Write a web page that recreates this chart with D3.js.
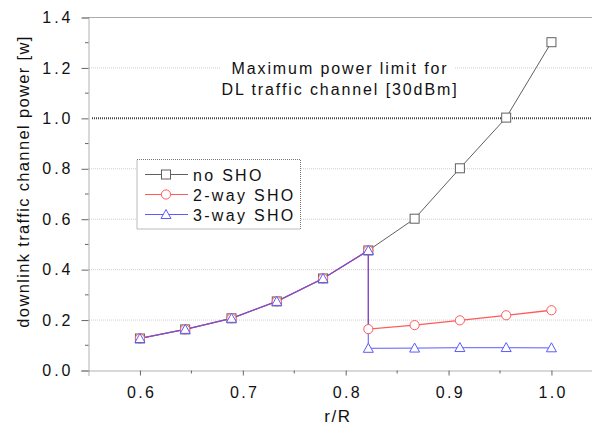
<!DOCTYPE html>
<html><head><meta charset="utf-8">
<script src="https://cdn.jsdelivr.net/npm/d3@7"></script>
<style>body{margin:0;background:#fff}svg{display:block}</style>
</head><body><svg id="c" width="592" height="433"></svg>
<script>
const xNo = [0.6, 0.644, 0.689, 0.733, 0.778, 0.822, 0.867, 0.911, 0.956, 1.0];
const noSHO = [0.127, 0.163, 0.207, 0.274, 0.365, 0.476, 0.602, 0.802, 1.003, 1.302];
const xSHO = [0.6, 0.644, 0.689, 0.733, 0.778, 0.822, 0.822, 0.867, 0.911, 0.956, 1.0];
const twoWay = [0.127, 0.163, 0.207, 0.274, 0.365, 0.476, 0.164, 0.180, 0.199, 0.219, 0.239];
const threeWay = [0.127, 0.163, 0.207, 0.274, 0.365, 0.476, 0.088, 0.089, 0.091, 0.091, 0.090];
const yTicks = [0.0, 0.2, 0.4, 0.6, 0.8, 1.0, 1.2, 1.4];
const xTicks = [0.6, 0.7, 0.8, 0.9, 1.0];
const limitValue = 1.0;
const seriesNames = ["no SHO", "2-way SHO", "3-way SHO"];

const svg = d3.select("#c");
const x = d3.scaleLinear().domain([0.55, 1.04]).range([88.5, 592.6]);
const y = d3.scaleLinear().domain([0, 1.4]).range([370.5, 17.5]);
const font = "'Liberation Sans', Arial, sans-serif";

// gridlines
svg.append("g").selectAll("line").data(yTicks.filter(d => d > 0 && d < 1.4 && d !== limitValue)).join("line")
  .attr("x1", 89).attr("x2", 592).attr("y1", d => y(d)).attr("y2", d => y(d))
  .attr("stroke", "#cfcfcf").attr("stroke-width", 1).attr("stroke-dasharray", "1,1");

// top frame
svg.append("line").attr("x1", 88.5).attr("x2", 592).attr("y1", y(1.4)).attr("y2", y(1.4))
  .attr("stroke", "#555").attr("stroke-width", 1).attr("stroke-dasharray", "1,1");

// limit line
svg.append("line").attr("x1", 92).attr("x2", 592).attr("y1", y(limitValue)).attr("y2", y(limitValue))
  .attr("stroke", "#444").attr("stroke-width", 2).attr("stroke-dasharray", "1,1");

// annotation with white background
const ann = svg.append("g");
ann.append("rect").attr("x", 221).attr("y", 55).attr("width", 234).attr("height", 42).attr("fill", "#fff");
["Maximum power limit for", "DL traffic channel [30dBm]"].forEach((t, i) => {
  ann.append("text").attr("x", 340).attr("y", 74 + i * 21).attr("text-anchor", "middle")
    .attr("font-family", font).attr("font-size", 16).attr("letter-spacing", 1.9)
    .attr("fill", "#111").text(t);
});

// axes
const yAxis = d3.axisLeft(y).tickValues(yTicks).tickFormat(d3.format(".1f")).tickSize(7).tickPadding(8);
const yg = svg.append("g").attr("transform", "translate(88.5,0)").call(yAxis);
const xAxis = d3.axisBottom(x).tickValues(xTicks).tickFormat(d3.format(".1f")).tickSize(5).tickPadding(11.5);
const xg = svg.append("g").attr("transform", "translate(0,370.5)").call(xAxis);
[yg, xg].forEach(g => {
  g.select(".domain").attr("stroke", "#666").attr("stroke-dasharray", "1,1");
  g.selectAll(".tick line").attr("stroke", "#666");
  g.selectAll("text").attr("font-family", font).attr("font-size", 16).attr("fill", "#111");
});
yg.selectAll("text").attr("letter-spacing", 3);
xg.selectAll("text").attr("letter-spacing", 2.3).attr("dx", 1.2);
// minor ticks
const yMinor = d3.range(0.1, 1.4, 0.2);
svg.append("g").selectAll("line").data(yMinor).join("line")
  .attr("x1", 85).attr("x2", 88.5).attr("y1", d => y(d)).attr("y2", d => y(d)).attr("stroke", "#666");
const xMinor = [0.65, 0.75, 0.85, 0.95];
svg.append("g").selectAll("line").data(xMinor).join("line")
  .attr("x1", d => x(d)).attr("x2", d => x(d)).attr("y1", 370.5).attr("y2", 373.5).attr("stroke", "#666");

// axis labels
svg.append("text").attr("x", 338).attr("y", 421.5).attr("text-anchor", "middle")
  .attr("font-family", font).attr("font-size", 17).attr("letter-spacing", 1.6).attr("fill", "#111").text("r/R");
svg.append("text").attr("transform", "translate(28.5,181.5) rotate(-90)").attr("text-anchor", "middle")
  .attr("font-family", font).attr("font-size", 16.5).attr("letter-spacing", 1.35).attr("fill", "#111")
  .text("downlink traffic channel power [w]");

// lines
const line = d3.line().x(d => x(d[0])).y(d => y(d[1]));
const cNo = "#606060", cTwo = "#ff5a5a", cThree = "#5a5aff";
const dNo = xNo.map((v, i) => [v, noSHO[i]]);
const dTwo = xSHO.map((v, i) => [v, twoWay[i]]);
const dThree = xSHO.map((v, i) => [v, threeWay[i]]);
svg.append("path").datum(dNo).attr("d", line).attr("fill", "none").attr("stroke", cNo).attr("stroke-width", 1);
svg.append("path").datum(dTwo).attr("d", line).attr("fill", "none").attr("stroke", cTwo).attr("stroke-width", 1.3);
svg.append("path").datum(dThree).attr("d", line).attr("fill", "none").attr("stroke", "#4a4aff").attr("stroke-width", 1.3).attr("stroke-opacity", 0.72);

// markers
function square(g, px, py, c) {
  g.append("rect").attr("x", px - 4.5).attr("y", py - 4.5).attr("width", 9).attr("height", 9)
    .attr("fill", "#fff").attr("stroke", c).attr("stroke-width", 1);
}
function circle(g, px, py, c) {
  g.append("circle").attr("cx", px).attr("cy", py).attr("r", 4.6).attr("fill", "#fff").attr("stroke", c).attr("stroke-width", 1);
}
function tri(g, px, py, c) {
  g.append("path").attr("d", `M${px},${py - 5}L${px + 5},${py + 4}L${px - 5},${py + 4}Z`)
    .attr("fill", "#fff").attr("stroke", c).attr("stroke-width", 1);
}
const mg = svg.append("g");
dNo.forEach(d => square(mg, x(d[0]), y(d[1]), cNo));
dTwo.forEach(d => circle(mg, x(d[0]), y(d[1]), cTwo));
dThree.forEach(d => tri(mg, x(d[0]), y(d[1]), cThree));

// legend
const leg = svg.append("g");
leg.append("rect").attr("x", 137).attr("y", 159.5).attr("width", 163.5).attr("height", 69.5)
  .attr("fill", "#fff").attr("stroke", "#777").attr("stroke-dasharray", "1,1");
const legColors = [cNo, cTwo, cThree];
const legMarks = [square, circle, tri];
seriesNames.forEach((n, i) => {
  const yy = 174.5 + i * 20;
  leg.append("line").attr("x1", 145).attr("x2", 188).attr("y1", yy).attr("y2", yy)
    .attr("stroke", legColors[i]).attr("stroke-width", 1);
  legMarks[i](leg, 166, yy, legColors[i]);
  leg.append("text").attr("x", 193).attr("y", yy + 6.2).attr("font-family", font).attr("font-size", 16)
    .attr("letter-spacing", 2.3).attr("fill", "#111").text(n);
});
</script></body></html>
